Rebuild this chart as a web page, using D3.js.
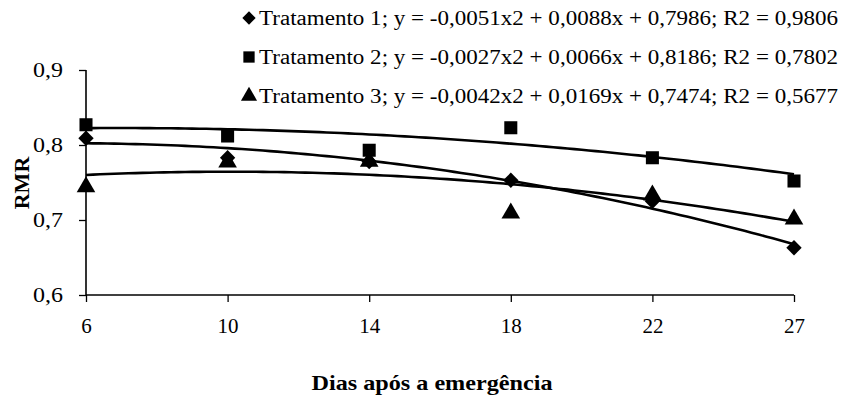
<!DOCTYPE html>
<html>
<head>
<meta charset="utf-8">
<script src="https://cdn.jsdelivr.net/npm/d3@7"></script>
<style>
  body { margin: 0; background: #fff; }
  text { font-family: "Liberation Serif", "Times New Roman", serif; fill: #000; }
</style>
</head>
<body>
<div id="chart"></div>
<script>
const width = 845;
const height = 400;

// dias após a emergência
const categories = ['6', '10', '14', '18', '22', '27'];
const yTicks = [0.6, 0.7, 0.8, 0.9];

// valores observados de RMR
const trat1 = [0.809, 0.783, 0.778, 0.753, 0.725, 0.663];
const trat2 = [0.827, 0.812, 0.793, 0.823, 0.783, 0.752];
const trat3 = [0.744, 0.777, 0.778, 0.709, 0.733, 0.701];

// coeficientes das linhas de tendência (a x2 + b x + c), x = 1..6
const coefs1 = [-0.0051, 0.0088, 0.7986];
const coefs2 = [-0.0027, 0.0066, 0.8186];
const coefs3 = [-0.0042, 0.0169, 0.7474];

const legendLabels = [
  'Tratamento 1; y = -0,0051x2 + 0,0088x + 0,7986; R2 = 0,9806',
  'Tratamento 2; y = -0,0027x2 + 0,0066x + 0,8186; R2 = 0,7802',
  'Tratamento 3; y = -0,0042x2 + 0,0169x + 0,7474; R2 = 0,5677'
];

const series = [
  { values: trat1, coefs: coefs1, symbol: d3.symbolDiamond2, size: 150 },
  { values: trat2, coefs: coefs2, symbol: d3.symbolSquare, size: 170 },
  { values: trat3, coefs: coefs3, symbol: d3.symbolTriangle, size: 150 }
];

const svg = d3.select('#chart').append('svg')
  .attr('width', width)
  .attr('height', height);

const x = d3.scalePoint().domain(categories).range([86, 794]);
const xIdx = d3.scaleLinear().domain([1, categories.length]).range([86, 794]);
const y = d3.scaleLinear().domain([0.6, 0.9]).range([295, 70]);

const fmt = d => d3.format('.1f')(d).replace('.', ',');

// eixo y
const yAxis = svg.append('g')
  .attr('transform', 'translate(86,0)')
  .call(d3.axisLeft(y).tickValues(yTicks).tickSize(7).tickPadding(16).tickFormat(fmt));
yAxis.select('.domain').attr('stroke-width', 1.6).attr('d', `M0,${y(0.9)}V${y(0.6)}`);
yAxis.selectAll('.tick line').attr('stroke-width', 1.3);
yAxis.selectAll('.tick text').attr('font-size', 21).attr('textLength', 30).attr('lengthAdjust', 'spacingAndGlyphs');

// eixo x
const xAxis = svg.append('g')
  .attr('transform', 'translate(0,295)')
  .call(d3.axisBottom(x).tickSize(7).tickPadding(16));
xAxis.select('.domain').attr('stroke-width', 1.6).attr('d', 'M86,0H794');
xAxis.selectAll('.tick line').attr('stroke-width', 1.3);
xAxis.selectAll('.tick text').attr('font-size', 21);

// linhas de tendência
series.forEach(s => {
  const [a, b, c] = s.coefs;
  const xs = d3.range(1, categories.length + 0.001, 0.05);
  svg.append('path')
    .datum(xs)
    .attr('fill', 'none')
    .attr('stroke', '#000')
    .attr('stroke-width', 2.6)
    .attr('d', d3.line().x(t => xIdx(t)).y(t => y(a * t * t + b * t + c)));
});

// marcadores
series.forEach(s => {
  svg.append('g').selectAll('path')
    .data(s.values)
    .join('path')
    .attr('transform', (d, i) => `translate(${x(categories[i])},${y(d)})`)
    .attr('d', d3.symbol().type(s.symbol).size(s.size))
    .attr('fill', '#000');
});

// legenda
const legend = svg.append('g');
legendLabels.forEach((label, i) => {
  const ly = 18 + i * 39;
  legend.append('path')
    .attr('transform', `translate(249,${ly})`)
    .attr('d', d3.symbol().type(series[i].symbol).size(series[i].size * 0.75))
    .attr('fill', '#000');
  legend.append('text')
    .attr('x', 259)
    .attr('y', ly)
    .attr('dy', '0.35em')
    .attr('font-size', 20)
    .attr('textLength', 579)
    .attr('lengthAdjust', 'spacingAndGlyphs')
    .text(label);
});

// títulos dos eixos
svg.append('text')
  .attr('x', 432)
  .attr('y', 390)
  .attr('text-anchor', 'middle')
  .attr('font-size', 21)
  .attr('font-weight', 'bold')
  .attr('textLength', 241)
  .attr('lengthAdjust', 'spacingAndGlyphs')
  .text('Dias após a emergência');

svg.append('text')
  .attr('transform', 'translate(29,183) rotate(-90)')
  .attr('text-anchor', 'middle')
  .attr('font-size', 22)
  .attr('font-weight', 'bold')
  .text('RMR');
</script>
</body>
</html>
